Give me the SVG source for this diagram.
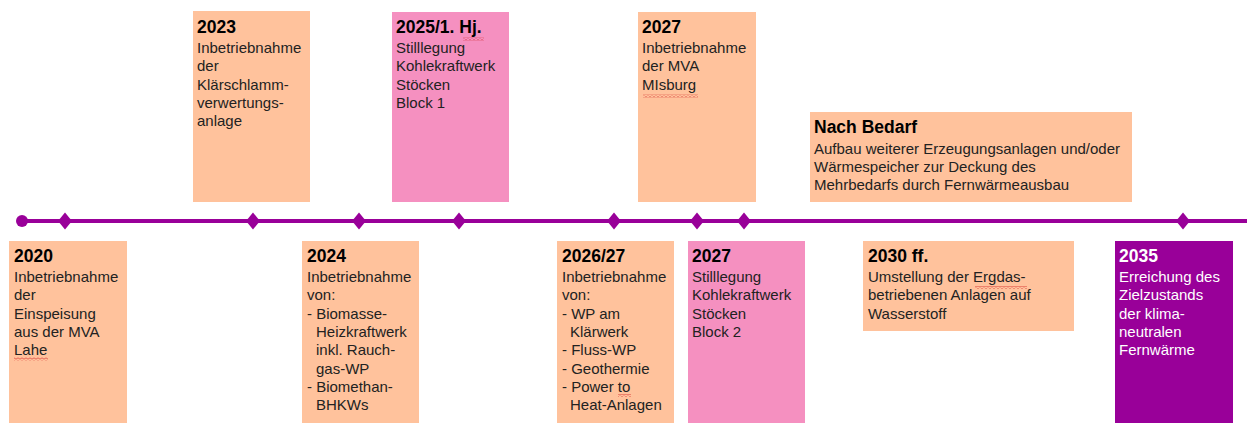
<svg xmlns="http://www.w3.org/2000/svg" width="1247" height="423" viewBox="0 0 1247 423">
<defs>
<style>
.o{fill:#FFC29C}
.p{fill:#F590C0}
.v{fill:#990099}
text{font-family:"Liberation Sans",Arial,sans-serif}
.y{font-size:17.5px;font-weight:bold;fill:#000}
.t{font-size:15px;fill:#222}
.w{fill:#fff}
.tl{stroke:#990099;stroke-width:4;fill:none}
.dm{fill:#990099}
</style>
<pattern id="sq" x="0" y="0" width="4" height="3" patternUnits="userSpaceOnUse">
<polyline points="0,2.5 2,0.5 4,2.5" fill="none" stroke="#d02020" stroke-width="0.8"/>
</pattern>
<path id="dia" d="M0,-8.5 L7,0 L0,8.5 L-7,0 Z"/>
</defs>
<rect width="1247" height="423" fill="#fff"/>

<g id="connectors">
<line class="tl" x1="22" y1="221" x2="1247" y2="221"/>
<circle cx="22" cy="221" r="6" class="dm"/>
<use href="#dia" x="65" y="221" class="dm"/>
<use href="#dia" x="253" y="221" class="dm"/>
<use href="#dia" x="359" y="221" class="dm"/>
<use href="#dia" x="459" y="221" class="dm"/>
<use href="#dia" x="614" y="221" class="dm"/>
<use href="#dia" x="697" y="221" class="dm"/>
<use href="#dia" x="744" y="221" class="dm"/>
<use href="#dia" x="1183" y="221" class="dm"/>
</g>

<g id="n2020">
<rect class="o" x="9" y="241" width="118" height="182"/>
<text class="y" x="14" y="262">2020</text>
<text class="t" x="14" y="282">Inbetriebnahme</text>
<text class="t" x="14" y="300.3">der</text>
<text class="t" x="14" y="318.6">Einspeisung</text>
<text class="t" x="14" y="336.9">aus der MVA</text>
<text class="t" x="14" y="355.2">Lahe</text>
<rect x="14" y="357.5" width="34" height="3" fill="url(#sq)"/>
</g>

<g id="n2023">
<rect class="o" x="193" y="11" width="117" height="191"/>
<text class="y" x="197" y="32.5">2023</text>
<text class="t" x="197" y="53">Inbetriebnahme</text>
<text class="t" x="197" y="71.3">der</text>
<text class="t" x="197" y="89.6">Klärschlamm-</text>
<text class="t" x="197" y="107.9">verwertungs-</text>
<text class="t" x="197" y="126.2">anlage</text>
</g>

<g id="n2025">
<rect class="p" x="392" y="12" width="117" height="190"/>
<text class="y" x="396" y="32.5">2025/1. Hj.</text>
<rect x="463" y="37.5" width="21" height="3" fill="url(#sq)"/>
<text class="t" x="396" y="53">Stilllegung</text>
<text class="t" x="396" y="71.3">Kohlekraftwerk</text>
<text class="t" x="396" y="89.6">Stöcken</text>
<text class="t" x="396" y="107.9">Block 1</text>
</g>

<g id="n2027a">
<rect class="o" x="638" y="12" width="118" height="190"/>
<text class="y" x="642" y="32.5">2027</text>
<text class="t" x="642" y="53">Inbetriebnahme</text>
<text class="t" x="642" y="71.3">der MVA</text>
<text class="t" x="642" y="89.6">MIsburg</text>
<rect x="643" y="94.5" width="55" height="3" fill="url(#sq)"/>
</g>

<g id="nbedarf">
<rect class="o" x="810" y="112" width="322" height="90"/>
<text class="y" x="814" y="133">Nach Bedarf</text>
<text class="t" x="814" y="153.5">Aufbau weiterer Erzeugungsanlagen und/oder</text>
<text class="t" x="814" y="171.8">Wärmespeicher zur Deckung des</text>
<text class="t" x="814" y="190.1">Mehrbedarfs durch Fernwärmeausbau</text>
</g>

<g id="n2024">
<rect class="o" x="302" y="241" width="117" height="182"/>
<text class="y" x="307" y="262">2024</text>
<text class="t" x="307" y="282">Inbetriebnahme</text>
<text class="t" x="307" y="300.3">von:</text>
<text class="t" x="307" y="318.6">- Biomasse-</text>
<text class="t" x="316" y="336.9">Heizkraftwerk</text>
<text class="t" x="316" y="355.2">inkl. Rauch-</text>
<text class="t" x="316" y="373.5">gas-WP</text>
<text class="t" x="307" y="391.8">- Biomethan-</text>
<text class="t" x="316" y="410.1">BHKWs</text>
</g>

<g id="n2026">
<rect class="o" x="557" y="241" width="117" height="182"/>
<text class="y" x="562" y="262">2026/27</text>
<text class="t" x="562" y="282">Inbetriebnahme</text>
<text class="t" x="562" y="300.3">von:</text>
<text class="t" x="562" y="318.6">- WP am</text>
<text class="t" x="570" y="336.9">Klärwerk</text>
<text class="t" x="562" y="355.2">- Fluss-WP</text>
<text class="t" x="562" y="373.5">- Geothermie</text>
<text class="t" x="562" y="391.8">- Power to</text>
<rect x="618" y="394" width="13" height="3" fill="url(#sq)"/>
<text class="t" x="570" y="410.1">Heat-Anlagen</text>
</g>

<g id="n2027b">
<rect class="p" x="688" y="241" width="117" height="182"/>
<text class="y" x="692" y="262">2027</text>
<text class="t" x="692" y="282">Stilllegung</text>
<text class="t" x="692" y="300.3">Kohlekraftwerk</text>
<text class="t" x="692" y="318.6">Stöcken</text>
<text class="t" x="692" y="336.9">Block 2</text>
</g>

<g id="n2030">
<rect class="o" x="863" y="241" width="211" height="90"/>
<text class="y" x="868" y="262">2030 ff.</text>
<text class="t" x="868" y="282">Umstellung der Ergdas-</text>
<rect x="975" y="286" width="52" height="3" fill="url(#sq)"/>
<text class="t" x="868" y="300.3">betriebenen Anlagen auf</text>
<text class="t" x="868" y="318.6">Wasserstoff</text>
</g>

<g id="n2035">
<rect class="v" x="1115" y="241" width="118" height="182"/>
<text class="y w" x="1119" y="262">2035</text>
<text class="t w" x="1119" y="282">Erreichung des</text>
<text class="t w" x="1119" y="300.3">Zielzustands</text>
<text class="t w" x="1119" y="318.6">der klima-</text>
<text class="t w" x="1119" y="336.9">neutralen</text>
<text class="t w" x="1119" y="355.2">Fernwärme</text>
</g>
</svg>
